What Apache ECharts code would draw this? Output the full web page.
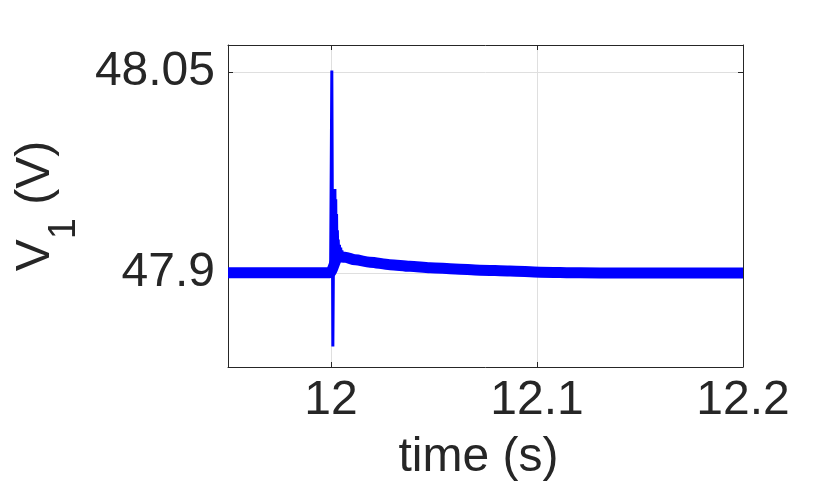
<!DOCTYPE html>
<html><head><meta charset="utf-8">
<script src="https://cdn.jsdelivr.net/npm/echarts@6/dist/echarts.min.js"></script>
<style>html,body{margin:0;padding:0;background:#fff}#c{width:830px;height:497px}</style>
</head><body><div id="c"></div>
<script>
// Tick values
const xTicks = [12, 12.1, 12.2];
const yTicks = [47.9, 48.05];
// Ripple band centre (thick trace)
const bandT = [11.95, 11.9995, 12.0035, 12.0068, 12.0117, 12.0189, 12.0286, 12.0383, 12.0481, 12.0602, 12.0723, 12.0869, 12.1015, 12.1209, 12.1403, 12.2];
const bandV = [47.9002, 47.9002, 47.9122, 47.9118, 47.9099, 47.9081, 47.9063, 47.9051, 47.9040, 47.9031, 47.9022, 47.9015, 47.9007, 47.9002, 47.9000, 47.9000];
// Switching transient (thin trace)
const spikeT = [11.9998, 12.0004, 12.0009, 12.0013, 12.0016, 12.0019, 12.0021, 12.0023, 12.0025, 12.0027, 12.0029, 12.0031, 12.0033, 12.0035, 12.0038, 12.0041, 12.0044, 12.0047, 12.0050, 12.0053, 12.0056];
const spikeV = [47.9002, 48.0509, 47.8452, 47.935, 47.900, 47.9627, 47.912, 47.955, 47.912, 47.944, 47.912, 47.932, 47.912, 47.925, 47.912, 47.921, 47.912, 47.919, 47.912, 47.917, 47.912];

const FONT = "'Liberation Sans', Helvetica, Arial, sans-serif";
const AX = '#262626';
const GRIDC = '#dfdfdf';

const zip = (a, b) => a.map((v, i) => [v, b[i]]);

const chart = echarts.init(document.getElementById('c'), null, {renderer: 'canvas'});

function xAxisCfg(pos, main) {
  return {
    type: 'value', min: 11.95, max: 12.2, position: pos,
    axisLine: {show: true, onZero: false, lineStyle: {color: AX, width: 1}},
    axisTick: {show: true, inside: true, length: 5, customValues: xTicks, lineStyle: {color: AX, width: 1}},
    axisLabel: {show: main, customValues: xTicks, margin: 10, fontSize: 48, color: AX, fontFamily: FONT},
    splitLine: {show: main, lineStyle: {color: GRIDC, width: 1}},
    name: main ? 'time (s)' : '', nameLocation: 'middle', nameGap: 67,
    nameTextStyle: {fontSize: 48, color: AX, fontFamily: FONT, padding: [0, 14, 0, 0]}
  };
}
function yAxisCfg(pos, main) {
  return {
    type: 'value', min: 47.83, max: 48.07, position: pos,
    axisLine: {show: true, onZero: false, lineStyle: {color: AX, width: 1}},
    axisTick: {show: true, inside: true, length: 5, customValues: yTicks, lineStyle: {color: AX, width: 1}},
    axisLabel: {show: main, customValues: yTicks, margin: 13, fontSize: 48, color: AX, fontFamily: FONT},
    splitLine: {show: main, lineStyle: {color: GRIDC, width: 1}},
    name: main ? '{a|V}{b|1}{a| (V)}' : '', nameLocation: 'middle', nameGap: 142, nameRotate: 90,
    nameTextStyle: {
      fontSize: 48, color: AX, fontFamily: FONT,
      rich: {
        a: {fontSize: 48, height: 48, lineHeight: 72, padding: [0, 0, 24, 0], color: AX, fontFamily: FONT},
        b: {fontSize: 38, height: 38, lineHeight: 72, padding: [34, 0, 0, 0], color: AX, fontFamily: FONT}
      }
    }
  };
}

chart.setOption({
  animation: false,
  backgroundColor: '#ffffff',
  grid: {left: 228, right: 87, top: 45, bottom: 130},
  xAxis: [xAxisCfg('bottom', true), xAxisCfg('top', false)],
  yAxis: [yAxisCfg('left', true), yAxisCfg('right', false)],
  series: [
    {type: 'line', xAxisIndex: 0, yAxisIndex: 0, data: zip(bandT, bandV), showSymbol: false,
     smooth: 0.3, smoothMonotone: 'x',
     lineStyle: {color: '#0000ff', width: 11, join: 'round', cap: 'butt'}, z: 2},
    {type: 'line', xAxisIndex: 0, yAxisIndex: 0, data: zip(spikeT, spikeV), showSymbol: false,
     lineStyle: {color: '#0000ff', width: 3, join: 'miter'}, z: 3}
  ]
});
</script></body></html>
